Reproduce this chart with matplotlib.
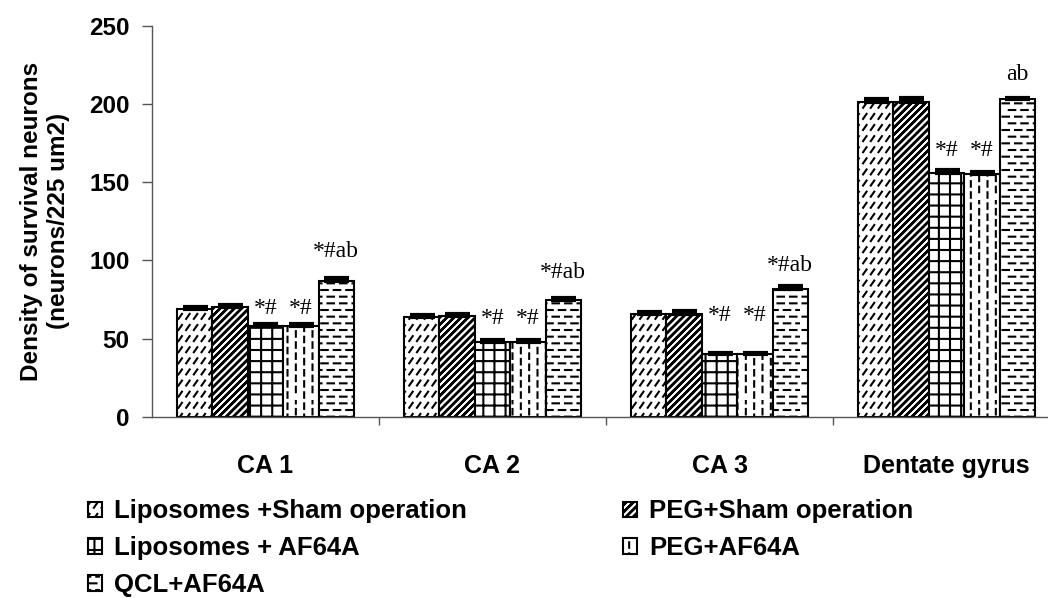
import numpy as np
import matplotlib
matplotlib.use("Agg")
import matplotlib.pyplot as plt
import matplotlib.hatch as mhatch
from matplotlib.path import Path

# ---------------------------------------------------------------- data
regions = ["CA 1", "CA 2", "CA 3", "Dentate gyrus"]
groups = ["Liposomes +Sham operation", "PEG+Sham operation",
          "Liposomes + AF64A", "PEG+AF64A", "QCL+AF64A"]

lipo_sham = [69, 64, 66, 201]
peg_sham = [70, 64.5, 66, 201.5]
lipo_af64a = [58, 48, 40, 156]
peg_af64a = [58, 48, 40, 155]
qcl_af64a = [87, 74.5, 82, 203]

lipo_sham_err = [1.5, 1.2, 1.2, 2.0]
peg_sham_err = [1.5, 1.5, 2.0, 2.0]
lipo_af64a_err = [1.2, 1.0, 1.0, 2.0]
peg_af64a_err = [1.5, 1.0, 1.0, 1.5]
qcl_af64a_err = [1.5, 1.5, 1.5, 1.0]

# significance marks and the height (in y units) where each one sits
sig_marks = [["", "", "*#", "*#", "*#ab"],
             ["", "", "*#", "*#", "*#ab"],
             ["", "", "*#", "*#", "*#ab"],
             ["", "", "*#", "*#", "ab"]]
sig_heights = [[0, 0, 69, 69, 106],
               [0, 0, 63, 63, 92],
               [0, 0, 65, 65, 97],
               [0, 0, 170, 170, 219]]

series = [lipo_sham, peg_sham, lipo_af64a, peg_af64a, qcl_af64a]
errors = [lipo_sham_err, peg_sham_err, lipo_af64a_err, peg_af64a_err,
          qcl_af64a_err]


# ------------------------------------------------- custom fill patterns
def _segments(kind):
    """Line segments inside one unit hatch tile for the given pattern."""
    segs = []
    if kind == "a":  # short slanted dashes in rows
        nx, ny = 13, 9
        for i in range(nx):
            for j in range(ny):
                x0 = (i + 0.2) / nx
                y0 = (j + 0.3) / ny
                segs.append(((x0, y0), (x0 + 0.035, y0 + 0.05)))
    elif kind == "b":  # bold forward diagonals
        n = 14
        for k in range(-n, n + 1):
            s = k / n
            for off in (-0.004, 0.0, 0.004):
                segs.append(((s + off, 0.0), (s + off + 1.0, 1.0)))
    elif kind == "c":  # square grid
        n = 9
        for k in range(n):
            p = (k + 0.5) / n
            segs.append(((p, 0.0), (p, 1.0)))
            segs.append(((0.0, p), (1.0, p)))
    elif kind == "d":  # vertical dashes, staggered
        nx, ny = 12, 9
        for i in range(nx):
            shift = 0.5 if i % 2 else 0.0
            for j in range(ny):
                x0 = (i + 0.5) / nx
                y0 = ((j + shift) % ny + 0.2) / ny
                segs.append(((x0, y0), (x0, y0 + 0.055)))
    elif kind == "e":  # horizontal dashes, staggered
        nx, ny = 8, 15
        for j in range(ny):
            shift = 0.5 if j % 2 else 0.0
            for i in range(nx):
                y0 = (j + 0.5) / ny
                x0 = ((i + shift) % nx + 0.2) / nx
                segs.append(((x0, y0), (x0 + 0.065, y0)))
    return np.array(segs, dtype=float).reshape(-1, 2, 2)


def _make_hatch(kind):
    class _Pattern:
        def __init__(self, hatch, density):
            if hatch is not None and kind in hatch:
                self.segs = _segments(kind)
            else:
                self.segs = np.empty((0, 2, 2))
            self.num_vertices = 2 * len(self.segs)

        def set_vertices_and_codes(self, vertices, codes):
            vertices[0::2] = self.segs[:, 0]
            vertices[1::2] = self.segs[:, 1]
            codes[0::2] = Path.MOVETO
            codes[1::2] = Path.LINETO
    return _Pattern


for _k in "abcde":
    mhatch._hatch_types.append(_make_hatch(_k))

_orig_validate = mhatch._validate_hatch_pattern


def _validate(hatch):
    if hatch is not None and set(hatch) <= set("abcde"):
        return
    _orig_validate(hatch)


mhatch._validate_hatch_pattern = _validate

hatches = ["a", "b", "c", "d", "e"]

# ---------------------------------------------------------------- figure
plt.rcParams["hatch.linewidth"] = 1.5
plt.rcParams["font.family"] = ["Liberation Sans", "DejaVu Sans"]

fig = plt.figure(figsize=(10.48, 5.98), dpi=100)
ax = fig.add_axes([0.145, 0.3027, 0.855, 0.6543])

x = np.arange(len(regions))
width = 0.156
bars = []
for j, (vals, errs, h) in enumerate(zip(series, errors, hatches)):
    pos = x + (j - 2) * width
    b = ax.bar(pos, vals, width, facecolor="white", edgecolor="black",
               linewidth=1.5, hatch=h, zorder=2)
    bars.append(b)
    ax.errorbar(pos, vals, yerr=[np.zeros(len(vals)), errs], fmt="none",
                ecolor="black", elinewidth=1.5, capsize=9, capthick=3,
                zorder=3)
    for i in range(len(regions)):
        mark = sig_marks[i][j]
        if mark:
            ax.text(pos[i], sig_heights[i][j], mark, ha="center",
                    va="center", fontsize=17,
                    family=["Liberation Serif", "DejaVu Serif"])

ax.set_xlim(-0.5, 3.447)
ax.set_ylim(0, 250)
ax.set_yticks(np.arange(0, 251, 50))

for side in ("top", "right"):
    ax.spines[side].set_visible(False)
for side in ("left", "bottom"):
    ax.spines[side].set_color("#555555")
    ax.spines[side].set_linewidth(1.0)

ax.tick_params(axis="y", direction="out", length=7, width=1,
               color="#555555", pad=9, labelsize=17.5)
for lab in ax.get_yticklabels():
    lab.set_fontweight("bold")

ax.set_xticks(x)
ax.set_xticklabels(regions, fontsize=18, fontweight="bold")
ax.tick_params(axis="x", which="major", length=0, pad=27)
ax.set_xticks(x[:-1] + 0.5, minor=True)
ax.tick_params(axis="x", which="minor", direction="out", length=6,
               width=1, color="#555555")

ax.set_ylabel("Density of survival neurons\n(neurons/225 um2)",
              fontsize=17.5, fontweight="bold", linespacing=1.2)
ax.yaxis.set_label_coords(-0.092, 0.5)

order = [0, 2, 4, 1, 3]
fig.legend([bars[k] for k in order], [groups[k] for k in order],
           loc="upper left", bbox_to_anchor=(0.084, 0.165), ncol=2,
           frameon=False, borderpad=0, borderaxespad=0,
           handlelength=0.55, handleheight=0.55, handletextpad=0.45,
           labelspacing=0.5, columnspacing=6.1,
           prop={"size": 18.5, "weight": "bold"})

fig.savefig("out.png", dpi=100)
